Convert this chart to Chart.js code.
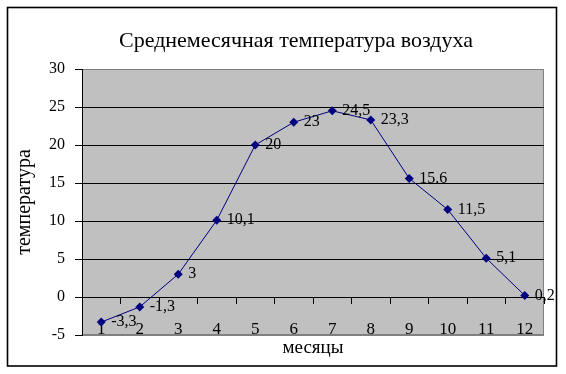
<!DOCTYPE html>
<html>
<head>
<meta charset="utf-8">
<script src="https://cdn.jsdelivr.net/npm/chart.js@4/dist/chart.umd.min.js"></script>
<style>
html,body{margin:0;padding:0;background:#fff;}
#wrap{width:566px;height:374px;}
</style>
</head>
<body>
<div id="wrap"><canvas id="c" width="566" height="374"></canvas></div>
<script>
const months = ['1','2','3','4','5','6','7','8','9','10','11','12'];
const temps = [-3.3, -1.3, 3, 10.1, 20, 23, 24.5, 23.3, 15.6, 11.5, 5.1, 0.2];
const pointLabels = ['-3,3','-1,3','3','10,1','20','23','24,5','23,3','15.6','11,5','5,1','0,2'];
const chartTitle = 'Среднемесячная температура воздуха';
const xTitle = 'месяцы';
const yTitle = 'температура';
const yMin = -5, yMax = 30, yStep = 5;

const SERIF = '"Liberation Serif", "Times New Roman", serif';

const frame = {
  id: 'frame',
  beforeDraw(chart) {
    const {ctx, chartArea: a} = chart;
    ctx.save();
    ctx.fillStyle = '#fff';
    ctx.fillRect(0, 0, chart.width, chart.height);
    ctx.fillStyle = '#C0C0C0';
    ctx.fillRect(a.left, a.top, a.right - a.left, a.bottom - a.top);
    ctx.strokeStyle = '#808080';
    ctx.lineWidth = 1;
    ctx.strokeRect(a.left + 0.5, a.top + 0.5, a.right - a.left - 1, a.bottom - a.top - 1);
    ctx.restore();
  },
  afterDraw(chart) {
    const {ctx} = chart;
    ctx.save();
    ctx.strokeStyle = '#000';
    ctx.lineWidth = 1.6;
    ctx.strokeRect(7.5, 7.5, 549, 358.5);
    ctx.restore();
  }
};

const valueLabels = {
  id: 'valueLabels',
  afterDatasetsDraw(chart) {
    const {ctx} = chart;
    const meta = chart.getDatasetMeta(0);
    ctx.save();
    ctx.font = '16px ' + SERIF;
    ctx.fillStyle = '#000';
    ctx.textAlign = 'left';
    ctx.textBaseline = 'middle';
    meta.data.forEach((pt, i) => {
      ctx.fillText(pointLabels[i], pt.x + 10, pt.y);
    });
    ctx.restore();
  }
};

new Chart(document.getElementById('c'), {
  type: 'line',
  data: {
    labels: months,
    datasets: [{
      data: temps,
      borderColor: '#000080',
      backgroundColor: '#000080',
      borderWidth: 1,
      pointStyle: 'rectRot',
      pointRadius: 4.5,
      pointBorderWidth: 0,
      pointBackgroundColor: '#000080',
      tension: 0,
      xAxisID: 'x',
      yAxisID: 'y'
    }]
  },
  options: {
    responsive: false,
    animation: false,
    devicePixelRatio: 1,
    layout: {padding: {left: 26, right: 0, top: 0, bottom: 0}},
    plugins: {
      legend: {display: false},
      tooltip: {enabled: false},
      title: {
        display: true,
        text: chartTitle,
        color: '#000',
        font: {family: SERIF, size: 22, weight: 'normal'},
        padding: {top: 28, bottom: 14.6}
      }
    },
    scales: {
      x: {
        type: 'category',
        position: 'bottom',
        offset: true,
        grid: {display: false},
        border: {display: false},
        ticks: {display: false},
        title: {
          display: true,
          text: xTitle,
          color: '#000',
          font: {family: SERIF, size: 19},
          padding: {top: 0, bottom: 15}
        },
        afterFit(scale) { scale.height = 39; }
      },
      x2: {
        type: 'category',
        labels: months,
        position: {y: 0},
        offset: true,
        grid: {offset: true, drawOnChartArea: false, drawTicks: true, tickLength: 6, color: '#000', lineWidth: 1},
        border: {display: true, color: '#000', width: 1},
        ticks: {color: '#000', font: {family: SERIF, size: 17}, padding: 16, maxRotation: 0, autoSkip: false}
      },
      y: {
        type: 'linear',
        position: 'left',
        min: yMin,
        max: yMax,
        ticks: {
          stepSize: yStep,
          color: '#000',
          font: {family: SERIF, size: 16},
          padding: 10
        },
        grid: {
          color: (c) => (c.tick && (c.tick.value === yMax || c.tick.value === yMin)) ? '#808080' : '#000',
          tickColor: '#000',
          tickLength: 7,
          lineWidth: 1
        },
        border: {display: true, color: '#000', width: 1},
        title: {
          display: true,
          text: yTitle,
          color: '#000',
          font: {family: SERIF, size: 20},
          padding: {top: -13, bottom: 0}
        },
        afterFit(scale) { scale.width = 56; }
      },
      yRight: {
        type: 'linear',
        position: 'right',
        display: true,
        grid: {display: false},
        border: {display: false},
        ticks: {display: false},
        afterFit(scale) { scale.width = 22; }
      }
    }
  },
  plugins: [frame, valueLabels]
});
</script>
</body>
</html>
